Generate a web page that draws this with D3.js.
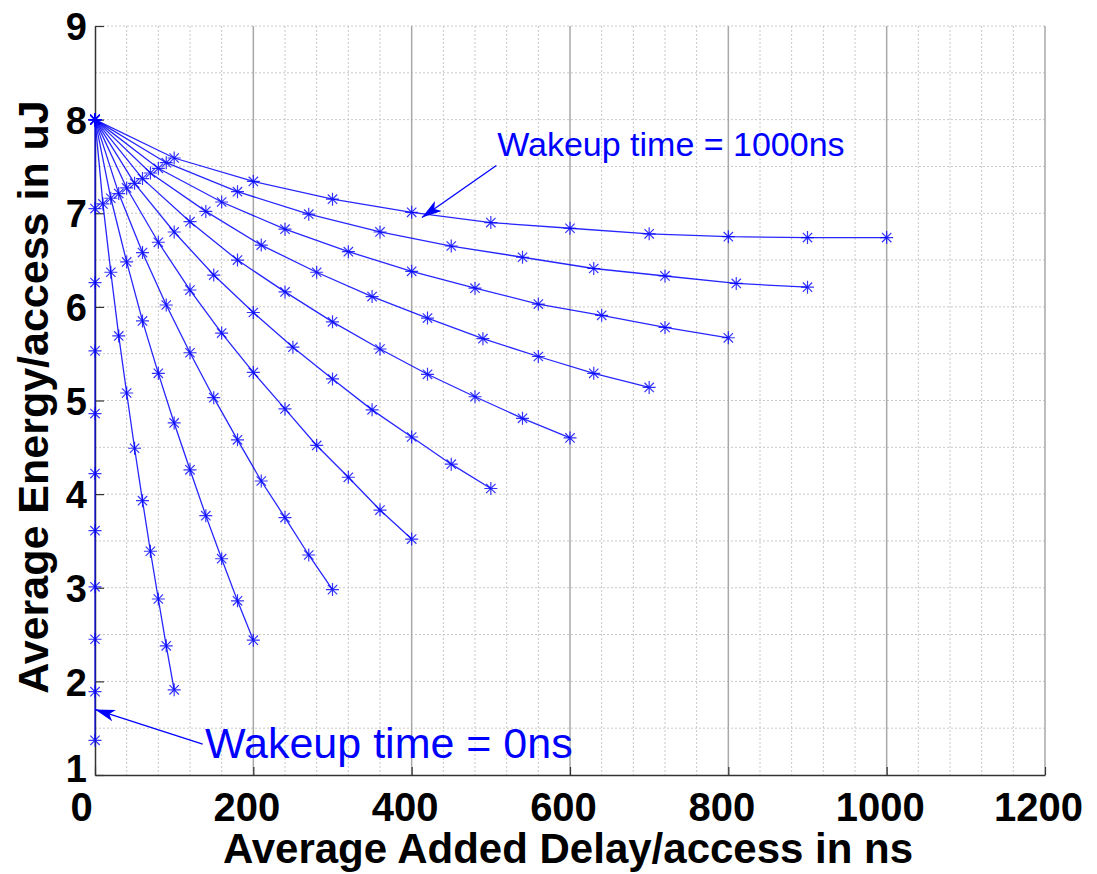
<!DOCTYPE html>
<html>
<head>
<meta charset="utf-8">
<script src="https://cdn.jsdelivr.net/npm/d3@7"></script>
<style>
  html, body { margin: 0; padding: 0; background: #fff; }
  svg { display: block; }
</style>
</head>
<body>
<svg id="chart" width="1097" height="874"></svg>
<script>
// ---------------- DATA ----------------
const wakeupTimes = [0, 100, 200, 300, 400, 500, 600, 700, 800, 900, 1000];

const delays = [
  [0, 0, 0, 0, 0, 0, 0, 0, 0, 0, 0],
  [0, 10, 20, 30, 40, 50, 60, 70, 80, 90, 100],
  [0, 20, 40, 60, 80, 100, 120, 140, 160, 180, 200],
  [0, 30, 60, 90, 120, 150, 180, 210, 240, 270, 300],
  [0, 40, 80, 120, 160, 200, 240, 280, 320, 360, 400],
  [0, 50, 100, 150, 200, 250, 300, 350, 400, 450, 500],
  [0, 60, 120, 180, 240, 300, 360, 420, 480, 540, 600],
  [0, 70, 140, 210, 280, 350, 420, 490, 560, 630, 700],
  [0, 80, 160, 240, 320, 400, 480, 560, 640, 720, 800],
  [0, 90, 180, 270, 360, 450, 540, 630, 720, 810, 900],
  [0, 100, 200, 300, 400, 500, 600, 700, 800, 900, 1000]
];

const energies = [
  [8, 7.05, 6.26, 5.53, 4.86, 4.22, 3.61, 3.01, 2.45, 1.89, 1.37],
  [8, 7.10, 6.37, 5.69, 5.08, 4.49, 3.93, 3.39, 2.88, 2.38, 1.91],
  [8, 7.16, 6.48, 5.85, 5.29, 4.76, 4.26, 3.77, 3.31, 2.86, 2.44],
  [8, 7.21, 6.58, 6.02, 5.51, 5.03, 4.58, 4.14, 3.75, 3.35, 2.98],
  [8, 7.27, 6.69, 6.18, 5.72, 5.30, 4.91, 4.52, 4.18, 3.83, 3.52],
  [8, 7.32, 6.80, 6.34, 5.94, 5.57, 5.23, 4.90, 4.61, 4.32, 4.06],
  [8, 7.37, 6.91, 6.50, 6.16, 5.84, 5.55, 5.28, 5.04, 4.81, 4.60],
  [8, 7.43, 7.02, 6.66, 6.37, 6.11, 5.88, 5.66, 5.47, 5.29, 5.14],
  [8, 7.48, 7.12, 6.83, 6.59, 6.38, 6.20, 6.03, 5.91, 5.78, 5.67],
  [8, 7.54, 7.23, 6.99, 6.80, 6.65, 6.53, 6.41, 6.33, 6.25, 6.21],
  [8, 7.59, 7.34, 7.15, 7.01, 6.90, 6.84, 6.78, 6.75, 6.74, 6.74]
];

const xTicks = [0, 200, 400, 600, 800, 1000, 1200];
const yTicks = [1, 2, 3, 4, 5, 6, 7, 8, 9];
const xLabel = "Average Added Delay/access in ns";
const yLabel = "Average Energy/access in uJ";
const annotations = [
  { text: "Wakeup time = 1000ns", tx: 508, ty: 7.61, fromX: 507, fromY: 7.51, toX: 413, toY: 6.955, size: 34 },
  { text: "Wakeup time = 0ns", tx: 139, ty: 1.18, fromX: 136, fromY: 1.33, toX: 0, toY: 1.70, size: 43 }
];

// ---------------- LAYOUT ----------------
const svg = d3.select("#chart");
const plotL = 95, plotR = 1045, plotT = 26, plotB = 775;
const x = d3.scaleLinear().domain([0, 1200]).range([plotL, plotR]);
const y = d3.scaleLinear().domain([1, 9]).range([plotB, plotT]);
const blue = "#0000ff";

// ---------------- GRID ----------------
const grid = svg.append("g");
grid.selectAll("line.hg").data(d3.range(1.5, 9.01, 0.5)).join("line")
  .attr("x1", plotL).attr("x2", plotR)
  .attr("y1", d => y(d)).attr("y2", d => y(d))
  .attr("stroke", "#c8c8c8").attr("stroke-width", 1)
  .attr("stroke-dasharray", "2,2");
grid.selectAll("line.vm").data(d3.range(40, 1200.1, 40).filter(v => v % 200 !== 0)).join("line")
  .attr("x1", d => x(d)).attr("x2", d => x(d))
  .attr("y1", plotT).attr("y2", plotB)
  .attr("stroke", "#c8c8c8").attr("stroke-width", 1)
  .attr("stroke-dasharray", "2,2");
grid.selectAll("line.vM").data(xTicks.filter(v => v > 0)).join("line")
  .attr("x1", d => x(d)).attr("x2", d => x(d))
  .attr("y1", plotT).attr("y2", plotB)
  .attr("stroke", "#a8a8a8").attr("stroke-width", 1.5);

// ---------------- AXES ----------------
const xAxis = d3.axisBottom(x).tickValues(xTicks).tickFormat(d3.format("d"))
  .tickSizeInner(-8).tickSizeOuter(0).tickPadding(14);
const yAxis = d3.axisLeft(y).tickValues(yTicks).tickFormat(d3.format("d"))
  .tickSizeInner(-9).tickSizeOuter(0).tickPadding(8);

const gx = svg.append("g").attr("transform", `translate(0,${plotB})`).call(xAxis);
const gy = svg.append("g").attr("transform", `translate(${plotL},0)`).call(yAxis);
[gx, gy].forEach(g => {
  g.select(".domain").attr("stroke", "#333").attr("stroke-width", 1.5);
  g.selectAll(".tick line").attr("stroke", "#333").attr("stroke-width", 1.2);
  g.selectAll(".tick text")
    .attr("fill", "#000")
    .style("font-family", "Liberation Sans, Arial, sans-serif")
    .style("font-weight", "bold");
});
gx.selectAll(".tick text").style("font-size", "40px")
  .attr("y", 18).attr("dy", "0.71em").attr("dx", d => d === 0 ? -14 : -7);
gy.selectAll(".tick text").style("font-size", "38px")
  .attr("dy", "0.36em").attr("x", -8)
  .attr("y", d => d === 1 ? -7 : 0);

svg.append("text")
  .attr("x", 568).attr("y", 863)
  .attr("text-anchor", "middle")
  .style("font-family", "Liberation Sans, Arial, sans-serif")
  .style("font-weight", "bold").style("font-size", "42px")
  .text(xLabel);
svg.append("text")
  .attr("transform", "translate(48,397) rotate(-90)")
  .attr("text-anchor", "middle")
  .style("font-family", "Liberation Sans, Arial, sans-serif")
  .style("font-weight", "bold").style("font-size", "43px")
  .text(yLabel);

// ---------------- SERIES ----------------
const series = wakeupTimes.map((w, i) => ({
  w, pts: delays[i].map((d, j) => ({ x: d, y: energies[i][j] }))
}));
const line = d3.line().x(d => x(d.x)).y(d => y(d.y));

const gS = svg.append("g");
gS.selectAll("path.s").data(series).join("path")
  .attr("d", d => line(d.pts))
  .attr("fill", "none").attr("stroke", blue).attr("stroke-width", 1.3)
  .attr("stroke-opacity", 0.85);

const r = 6.5, rd = r * 0.72;
const starPath = `M${-r},0L${r},0M0,${-r}L0,${r}M${-rd},${-rd}L${rd},${rd}M${-rd},${rd}L${rd},${-rd}`;
series.forEach(s => {
  gS.append("g").selectAll("path").data(s.pts).join("path")
    .attr("transform", d => `translate(${x(d.x)},${y(d.y)})`)
    .attr("d", starPath)
    .attr("fill", "none").attr("stroke", blue).attr("stroke-width", 1.2)
    .attr("stroke-opacity", 0.8);
});

// ---------------- ANNOTATIONS ----------------
svg.append("defs").append("marker")
  .attr("id", "arrow").attr("viewBox", "0 0 20 12")
  .attr("refX", 20).attr("refY", 6)
  .attr("markerWidth", 20).attr("markerHeight", 12)
  .attr("markerUnits", "userSpaceOnUse")
  .attr("orient", "auto")
  .append("path").attr("d", "M0,0L20,6L0,12L5,6Z").attr("fill", blue);

annotations.forEach(a => {
  svg.append("line")
    .attr("x1", x(a.fromX)).attr("y1", y(a.fromY))
    .attr("x2", x(a.toX)).attr("y2", y(a.toY))
    .attr("stroke", blue).attr("stroke-width", 1.3)
    .attr("marker-end", "url(#arrow)");
  svg.append("text")
    .attr("x", x(a.tx)).attr("y", y(a.ty))
    .attr("fill", blue)
    .style("font-family", "Liberation Sans, Arial, sans-serif")
    .style("font-size", a.size + "px")
    .text(a.text);
});
</script>
</body>
</html>
